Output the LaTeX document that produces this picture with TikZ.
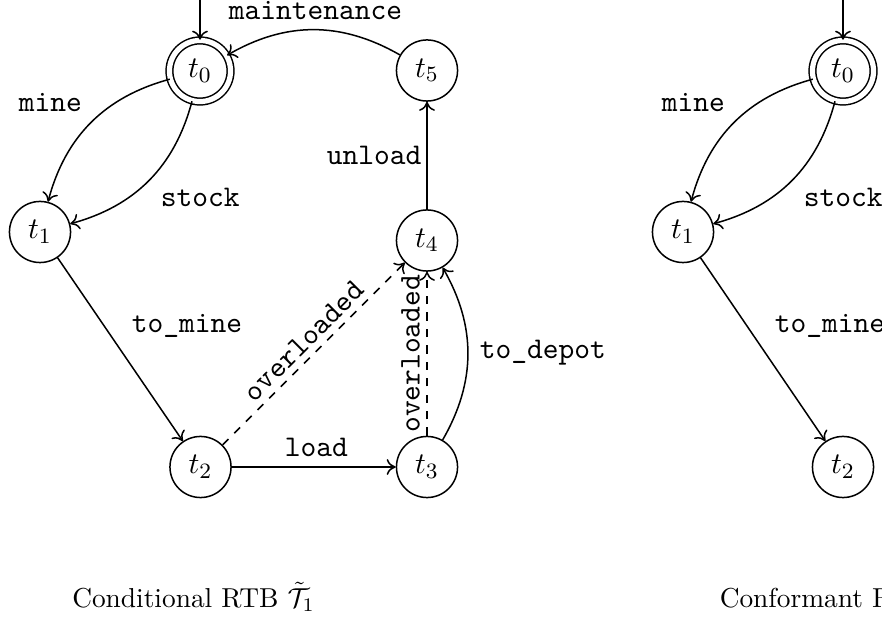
\documentclass[tikz,border=0pt]{standalone}
\usetikzlibrary{arrows.meta}
\begin{document}
\begin{tikzpicture}[x=0.365pt,y=0.365pt,line width=0.55pt,
  >={To[length=3.3pt,width=5.8pt]},
  stnode/.style={circle,draw,minimum size=22.3pt,inner sep=0pt,
    font=\fontsize{10.95}{13}\selectfont},
  accnode/.style={double,double distance=1.9pt},
  lab/.style={inner sep=0pt,font=\fontsize{10.95}{13}\selectfont\ttfamily},
  captext/.style={inner sep=0pt,anchor=base west,font=\fontsize{10}{12}\selectfont},
  tr/.style={->}]
\useasboundingbox (0,0) rectangle (882,-619);
\clip (0,0) rectangle (882,-619);

% ---- conditional RTB (left) ----
\node[stnode,accnode] (t0) at (200,-71) {$t_0$};
\node[stnode] (t1) at (40,-232) {$t_1$};
\node[stnode] (t2) at (200.5,-467) {$t_2$};
\node[stnode] (t3) at (427,-467) {$t_3$};
\node[stnode] (t4) at (427,-240.5) {$t_4$};
\node[stnode] (t5) at (427,-70.5) {$t_5$};
\coordinate (init) at (200,0);

\draw[tr] (init) -- (t0);
\draw[tr] (t5) to[bend right] (t0);
\draw[tr] (t0) to[bend right] (t1);
\draw[tr] (t0) to[bend left] (t1);
\draw[tr] (t1) -- (t2);
\draw[tr] (t2) -- (t3);
\draw[tr,dashed] (t2) -- (t4);
\draw[tr,dashed] (t3) -- (t4);
\draw[tr] (t3) to[bend right] (t4);
\draw[tr] (t4) -- (t5);

\node[lab,anchor=base west] (lmaint) at (228,-20) {maintenance};
\node[lab,anchor=base west] (lmine) at (18,-112) {mine};
\node[lab,anchor=base west] (lstock) at (160,-207) {stock};
\node[lab,anchor=base west] (lunload) at (326,-165) {unload};
\node[lab,anchor=base west] (ltomine) at (131,-333) {to\_mine};
\node[lab,anchor=base west] (lload) at (284,-457) {load};
\node[lab,anchor=base west] (ldepot) at (479,-359) {to\_depot};
\node[lab,rotate=45] (lover1) at (304,-341) {overloaded};
\node[lab,rotate=90] (lover2) at (410.5,-354) {overloaded};

\node[captext] (capA) at (71.5,-607.5) {Conditional RTB $\tilde{\mathcal{T}}_1$};

% ---- conformant RTB (right) ----
\node[stnode,accnode] (c0) at (843,-71) {$t_0$};
\node[stnode] (c1) at (683,-232) {$t_1$};
\node[stnode] (c2) at (843,-467) {$t_2$};
\coordinate (cinit) at (843,0);

\draw[tr] (cinit) -- (c0);
\draw[tr] (c0) to[bend right] (c1);
\draw[tr] (c0) to[bend left] (c1);
\draw[tr] (c1) -- (c2);

\node[lab,anchor=base west] (cmine) at (661,-112) {mine};
\node[lab,anchor=base west] (cstock) at (803,-207) {stock};
\node[lab,anchor=base west] (ctomine) at (774,-333) {to\_mine};

\node[captext] (capB) at (719,-607.5) {Conformant RTB $\tilde{\mathcal{T}}_2$};
\end{tikzpicture}
\end{document}
